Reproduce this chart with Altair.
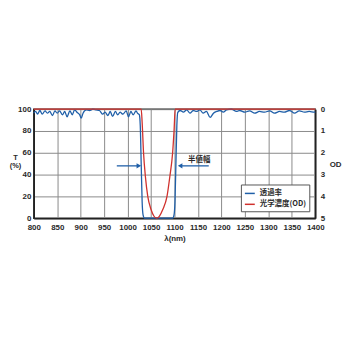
import altair as alt
import pandas as pd

# Transmission (T %) curve
wl_T = [800, 804, 808, 813, 818, 824, 829, 834, 840, 845, 850, 855, 861, 866, 871, 877, 882, 887, 892, 898,
        901, 905, 912, 919, 926, 933, 940, 947, 952, 958, 963, 968, 974, 979, 984, 990, 997, 1002, 1007, 1012,
        1018, 1021, 1025, 1027, 1029, 1031, 1033, 1036, 1096, 1099, 1101, 1103, 1105, 1107,
        1112, 1119, 1126, 1133, 1140, 1147, 1154, 1161, 1168, 1176, 1183, 1190, 1197, 1204, 1211, 1221,
        1232, 1239, 1250, 1260, 1271, 1281, 1292, 1303, 1313, 1324, 1334, 1345, 1356, 1366, 1377, 1387, 1398, 1400]
T = [96.3, 97.9, 95.4, 98.8, 95.4, 98.5, 96.3, 97.9, 94.2, 98.5, 96.3, 98.5, 94.8, 97.9, 93.0, 98.5, 94.8, 99.4, 97.2, 94.8,
     91.7, 96.3, 99.4, 98.8, 100.0, 99.4, 98.8, 95.4, 97.2, 94.2, 97.9, 93.3, 97.9, 94.8, 97.2, 95.4, 98.5, 93.0, 97.9, 94.8,
     98.5, 96.3, 95.0, 85.0, 50.0, 15.0, 3.0, 0.0, 0.0, 3.0, 15.0, 50.0, 85.0, 97.0,
     98.8, 97.2, 99.4, 96.3, 98.8, 97.9, 99.4, 96.3, 97.9, 92.4, 96.3, 97.9, 98.8, 97.2, 99.4, 100.0,
     97.9, 98.8, 97.2, 98.5, 96.3, 97.9, 97.2, 98.5, 96.3, 97.9, 97.2, 98.8, 96.3, 98.5, 97.2, 97.9, 97.2, 97.5]

# Optical density curve
wl_OD = [800, 1029, 1031, 1034, 1038, 1043, 1050, 1056, 1062, 1068, 1075, 1084, 1090, 1096, 1099, 1101.5, 1400]
OD = [0, 0, 0.6, 2.0, 3.1, 4.0, 4.6, 4.9, 5.0, 4.9, 4.6, 4.0, 3.1, 2.0, 1.0, 0, 0]

series = ["透過率", "光学濃度(OD)"]
colors = ["#1f5fa8", "#d0312d"]

# Half-width arrows
arrow_x = [977, 1112]
arrow_x2 = [1024, 1173]
arrow_head_x = [1024, 1112]
arrow_shape = ["triangle-right", "triangle-left"]
arrow_y = [48, 48]
label_text = ["半値幅"]
label_x = [1129]
label_y = [53]

x_ticks = list(range(800, 1401, 50))
t_ticks = [0, 20, 40, 60, 80, 100]
od_ticks = [0, 1, 2, 3, 4, 5]
font = "Liberation Sans"
cjk = "Noto Sans CJK JP"
txt = "#2a2a2a"

dfT = pd.DataFrame({"wl": wl_T, "v": T, "s": series[0]})
dfOD = pd.DataFrame({"wl": wl_OD, "v": OD, "s": series[1]})
dfA = pd.DataFrame({"x": arrow_x, "x2": arrow_x2, "hx": arrow_head_x, "shape": arrow_shape, "y": arrow_y})
dfL = pd.DataFrame({"x": label_x, "y": label_y, "t": label_text})

xscale = alt.Scale(domain=[800, 1400], nice=False)
xaxis = alt.Axis(
    values=x_ticks, tickCount=13, format="d", labelOverlap=False, labelBound=False,
    title="λ(nm)", grid=True, gridColor="#8a8a8a", gridWidth=1,
    labelFont=font, labelFontSize=8, labelFontWeight="bold", labelColor=txt, labelPadding=5, ticks=False,
    titleFont=font, titleFontSize=8, titleFontWeight="bold", titleColor=txt, titlePadding=4,
    domainColor="#222", domainWidth=1.5, labelFlush=False)

yaxis = alt.Axis(
    values=t_ticks, tickCount=6, format="d", labelOverlap=False, labelBound=False,
    title=["T", "(%)"], titleAngle=0, titleAlign="center", titleLineHeight=8,
    titleBaseline="middle", titleX=-19, titleY=49, titleFont=font, titleFontSize=7.5,
    titleFontWeight="bold", titleColor=txt, grid=True, gridColor="#8a8a8a", ticks=False,
    labelFont=font, labelFontSize=8, labelFontWeight="bold", labelColor=txt, labelPadding=3,
    domainColor="#222", domainWidth=1.5, labelFlush=False)

color = alt.Color("s:N", scale=alt.Scale(domain=series, range=colors), legend=alt.Legend(
    title=None, orient="none", legendX=209, legendY=76, symbolType="stroke", symbolStrokeWidth=1.5,
    symbolSize=100, labelFont=cjk, labelFontSize=7.5, labelFontWeight="bold", labelColor=txt,
    padding=3, rowPadding=1, strokeColor="#555", fillColor="white", cornerRadius=0))

yT = alt.Scale(domain=[0, 100], nice=False)

blue = alt.Chart(dfT).mark_line(strokeWidth=1.3, interpolate="monotone").encode(
    x=alt.X("wl:Q", scale=xscale, axis=xaxis),
    y=alt.Y("v:Q", scale=yT, axis=yaxis),
    color=color,
)

shafts = alt.Chart(dfA).mark_rule(color=colors[0], strokeWidth=1.3).encode(
    x=alt.X("x:Q", scale=xscale, axis=xaxis), x2="x2:Q", y=alt.Y("y:Q", scale=yT, axis=yaxis))
heads = alt.Chart(dfA).mark_point(color=colors[0], filled=True, size=28, opacity=1).encode(
    x=alt.X("hx:Q", scale=xscale, axis=xaxis), y=alt.Y("y:Q", scale=yT, axis=yaxis),
    shape=alt.Shape("shape:N", scale=None))
label = alt.Chart(dfL).mark_text(font=cjk, fontSize=7.5, fontWeight="bold", align="left",
                                 baseline="middle", color=txt).encode(
    x=alt.X("x:Q", scale=xscale, axis=xaxis), y=alt.Y("y:Q", scale=yT, axis=yaxis), text="t:N")

red = alt.Chart(dfOD).mark_line(strokeWidth=1.3, interpolate="monotone").encode(
    x=alt.X("wl:Q", scale=xscale, axis=xaxis),
    y=alt.Y("v:Q", scale=alt.Scale(domain=[0, 5], reverse=True, nice=False), axis=alt.Axis(
        orient="right", values=od_ticks, tickCount=6, format="d", labelOverlap=False, labelBound=False,
        title="OD", titleAngle=0, titleAlign="center",
        titleBaseline="middle", titleX=20, titleY=56, titleFont=font, titleFontSize=8,
        titleFontWeight="bold", titleColor=txt, grid=False, ticks=False,
        labelFont=font, labelFontSize=8, labelFontWeight="bold", labelColor=txt, labelPadding=5,
        domainColor="#222", domainWidth=1.5, labelFlush=False)),
    color=color,
)

left = alt.layer(blue, shafts, heads, label)
chart = alt.layer(left, red).resolve_scale(y="independent").properties(
    width=284, height=110,
    autosize=alt.AutoSizeParams(type="none"),
    padding={"left": 26, "top": 101, "right": 27, "bottom": 30},
    background="white",
).configure_view(stroke="#222", strokeWidth=1.5)

chart.save("out.html", embed_options={"renderer": "svg", "actions": False})
